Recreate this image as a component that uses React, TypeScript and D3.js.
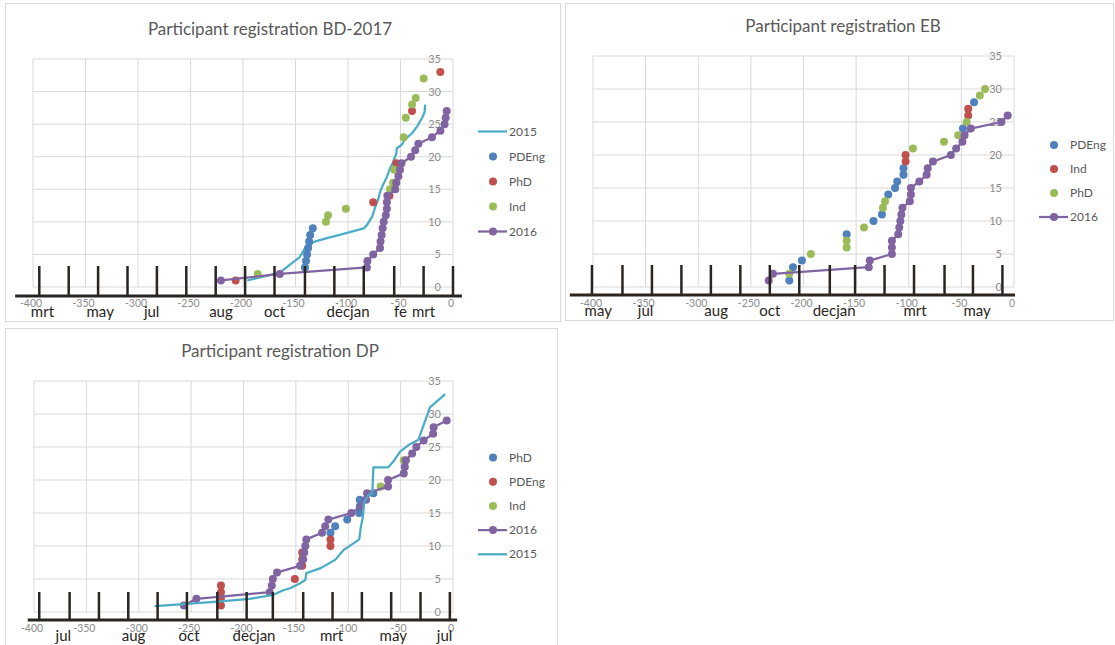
import React from "react";
import * as d3 from "d3";

// palette (Office 2010 look)
const BLUE = "#4F81BD";
const RED = "#C0504D";
const GREEN = "#9BBB59";
const PURPLE = "#8064A2";
const CYAN = "#4BACC6";
const INK = "#2a2521";
const GREY = "#595959";
const GRID = "#d9d9d9";
const FONT = "Lato, 'Open Sans', sans-serif";

const xTicks = d3.range(-400, 1, 50);
const yTicks = d3.range(0, 36, 5);

// ---- BD-2017 : [days before start, cumulative registrations]
const bd2015 = [[-196, 1], [-165, 2.2], [-146, 4.6], [-140, 6.2], [-137, 6], [-134, 6.8], [-131, 7], [-120, 7.5], [-108, 8], [-85, 9], [-82, 9.5], [-77, 10.8], [-74, 12.3], [-71, 13.6], [-69.5, 14.6], [-66, 15.9], [-63, 16.9], [-60, 18.2], [-57, 19.2], [-54, 20.5], [-53.5, 21.3], [-49, 21.8], [-46, 22.6], [-39, 23.6], [-34, 24.7], [-29, 26.1], [-27, 26.9], [-26.5, 28]];
const bdPDEng = [[-141, 3], [-140, 4], [-139, 5], [-138, 6], [-137, 7], [-136, 8], [-133.5, 9]];
const bdPhD = [[-207, 1], [-76, 13], [-60.5, 14], [-54, 19], [-39, 27], [-12, 33]];
const bdInd = [[-186, 2], [-121, 10], [-119, 11], [-102, 12], [-60, 15], [-57, 16], [-56, 18], [-47, 23], [-45, 26], [-39, 28], [-35.5, 29], [-28, 32]];
const bd2016 = [[-221, 1], [-165, 2], [-82, 3], [-81.5, 4], [-76, 5], [-69.5, 6], [-69, 7], [-68, 8], [-67, 9], [-66, 10], [-64, 11], [-63, 12], [-63, 13], [-62.5, 14], [-55, 15], [-54, 16], [-52, 17], [-50.5, 18], [-49, 19], [-40, 20], [-36, 21], [-33, 22], [-20, 23], [-12, 24], [-8, 25], [-7, 26], [-6, 27]];
const bdMarks = [-394, -366, -338, -310, -282, -254, -226, -198, -170, -141, -113, -85, -56, -28, 0];
// [label, day, anchor]
const bdMonths = [["mrt", -391, "middle"], ["may", -336, "middle"], ["jul", -287, "middle"], ["aug", -221, "middle"], ["oct", -170, "middle"], ["dec", -98, "end"], ["jan", -98, "start"], ["fe", -50, "middle"], ["mrt", -28, "middle"]];

// ---- EB
const ebPDEng = [[-213.5, 1], [-210, 3], [-201.5, 4], [-159, 8], [-133.5, 10], [-125.5, 11], [-119.5, 14], [-113, 15], [-111, 16], [-105, 17], [-105, 18], [-48.5, 24], [-38, 28]];
const ebInd = [[-103, 19], [-103, 20], [-43.5, 26], [-43.5, 27]];
const ebPhD = [[-213.5, 2], [-193, 5], [-159, 6], [-159, 7], [-142.5, 9], [-124.5, 12], [-122.5, 13], [-96, 21], [-66.5, 22], [-53, 23], [-45, 25], [-32.5, 29], [-27.5, 30]];
const eb2016 = [[-233, 1], [-229, 2], [-138, 3], [-137, 4], [-116, 5], [-116, 6], [-116, 7], [-110, 8], [-109, 9], [-108, 10], [-107, 11], [-106, 12], [-99, 13], [-98, 14], [-98, 15], [-90, 16], [-83, 17], [-82, 18], [-77, 19], [-60, 20], [-55, 21], [-49, 22], [-47, 23], [-41, 24], [-12, 25], [-6, 26]];
const ebMarks = [-401, -372, -344, -316, -288, -260, -232, -204, -175, -151, -123, -95, -66, -39, -11];
const ebMonths = [["may", -395, "middle"], ["jul", -350, "middle"], ["aug", -283, "middle"], ["oct", -232, "middle"], ["dec", -169, "end"], ["jan", -169, "start"], ["mrt", -94, "middle"], ["may", -35, "middle"]];

// ---- DP
const dpPhD = [[-117, 12], [-112.5, 13], [-101, 14], [-89.5, 15], [-89, 16], [-89, 17], [-76, 18]];
const dpPDEng = [[-221.5, 1], [-221.5, 2], [-221.5, 3], [-221.5, 4], [-151, 5], [-144, 7], [-144, 8], [-144, 9], [-117, 10], [-117, 11]];
const dpInd = [[-69, 19], [-47, 23]];
const dp2016 = [[-257, 1], [-245, 2], [-175, 3], [-173, 4], [-172, 5], [-168, 6], [-146, 7], [-143, 8], [-142, 9], [-141, 10], [-140, 11], [-125, 12], [-122, 13], [-119, 14], [-97, 15], [-88, 16], [-83, 17], [-82, 18], [-62, 19], [-62, 20], [-47, 21], [-46, 22], [-45, 23], [-39, 24], [-35, 25], [-28, 26], [-19, 27], [-18.5, 28], [-6, 29]];
const dp2015 = [[-285, 0.9], [-257, 1.2], [-222, 1.6], [-194, 2], [-171.5, 2.6], [-162, 3.3], [-155.5, 3.6], [-146, 4.35], [-141, 4.85], [-140, 5.9], [-127, 6.6], [-112.5, 7.9], [-104.5, 9.4], [-95, 10.4], [-89.5, 11], [-88, 12.9], [-86, 14.4], [-85, 16.5], [-81, 17.7], [-77, 18], [-76, 21.9], [-62, 21.9], [-57, 22.8], [-50.5, 24.3], [-42.5, 25.3], [-33, 26.1], [-22, 31], [-7.5, 33]];
const dpMarks = [-395, -366, -338, -310, -282, -254, -225, -197, -172, -143, -115, -87, -59, -31, -3];
const dpMonths = [["jul", -372, "middle"], ["aug", -305, "middle"], ["oct", -252, "middle"], ["dec", -188, "end"], ["jan", -188, "start"], ["mrt", -116, "middle"], ["may", -57, "middle"], ["jul", -8, "middle"]];

const panels = [
  {
    title: "Participant registration BD-2017",
    frame: [5.5, 3.5, 555, 318],
    titleX: 270, titleY: 35,
    xRange: [33, 453], yRange: [287, 59],
    marks: bdMarks, axisFrom: -417, axisTo: 8.5, months: bdMonths,
    lineDy: 9, markTop: 21, monthDy: 30,
    legend: { x: 493, y: 131.5, dy: 25 },
    series: [
      { name: "2015", color: CYAN, kind: "line", data: bd2015 },
      { name: "PDEng", color: BLUE, kind: "dot", data: bdPDEng },
      { name: "PhD", color: RED, kind: "dot", data: bdPhD },
      { name: "Ind", color: GREEN, kind: "dot", data: bdInd },
      { name: "2016", color: PURPLE, kind: "both", data: bd2016 },
    ],
  },
  {
    title: "Participant registration EB",
    frame: [565.5, 3.5, 548, 317],
    titleX: 843, titleY: 32,
    xRange: [593, 1014], yRange: [287, 56],
    marks: ebMarks, axisFrom: -422, axisTo: 1, months: ebMonths,
    lineDy: 8, markTop: 22, monthDy: 29,
    legend: { x: 1054, y: 145, dy: 24 },
    series: [
      { name: "PDEng", color: BLUE, kind: "dot", data: ebPDEng },
      { name: "Ind", color: RED, kind: "dot", data: ebInd },
      { name: "PhD", color: GREEN, kind: "dot", data: ebPhD },
      { name: "2016", color: PURPLE, kind: "both", data: eb2016 },
    ],
  },
  {
    title: "Participant registration DP",
    frame: [5.5, 328.5, 552, 330],
    titleX: 280, titleY: 357,
    xRange: [34, 453], yRange: [612, 381],
    marks: dpMarks, axisFrom: -406, axisTo: 4, months: dpMonths,
    lineDy: 8, markTop: 20, monthDy: 29,
    legend: { x: 493, y: 457.5, dy: 24.2 },
    series: [
      { name: "PhD", color: BLUE, kind: "dot", data: dpPhD },
      { name: "PDEng", color: RED, kind: "dot", data: dpPDEng },
      { name: "Ind", color: GREEN, kind: "dot", data: dpInd },
      { name: "2016", color: PURPLE, kind: "both", data: dp2016 },
      { name: "2015", color: CYAN, kind: "line", data: dp2015 },
    ],
  },
];

function Panel({ p }) {
  const x = d3.scaleLinear().domain([-400, 0]).range(p.xRange);
  const y = d3.scaleLinear().domain([0, 35]).range(p.yRange);
  const line = d3.line().x((d) => x(d[0])).y((d) => y(d[1]));
  const y0 = y(0);
  const [fx, fy, fw, fh] = p.frame;

  return (
    <g fontFamily={FONT}>
      <rect x={fx} y={fy} width={fw} height={fh} fill="#fff" stroke={GRID} />
      <text x={p.titleX} y={p.titleY} textAnchor="middle" fontSize={17} fill={GREY}>{p.title}</text>

      {/* gridlines */}
      {xTicks.map((t) => (
        <line key={"gx" + t} x1={x(t)} x2={x(t)} y1={y(35)} y2={y0} stroke={GRID} />
      ))}
      {yTicks.map((t) => (
        <line key={"gy" + t} x1={x(-400)} x2={x(0)} y1={y(t)} y2={y(t)} stroke={GRID} />
      ))}
      {yTicks.map((t) => (
        <text key={"ly" + t} x={x(0) - 12} y={y(t) + 4} textAnchor="end" fontSize={11} fill="#8c8c8c">{t}</text>
      ))}
      {xTicks.map((t) => (
        <text key={"lx" + t} x={x(t) - 2} y={y0 + 20} textAnchor="middle" fontSize={10.5} fill="#8c8c8c">{t}</text>
      ))}

      {/* series */}
      {p.series.map((s) => (
        <g key={s.name}>
          {s.kind !== "dot" && (
            <path d={line(s.data)} fill="none" stroke={s.color} strokeWidth={2.25} strokeLinejoin="round" />
          )}
          {s.kind !== "line" &&
            s.data.map((d, i) => <circle key={i} cx={x(d[0])} cy={y(d[1])} r={4} fill={s.color} />)}
        </g>
      ))}

      {/* legend */}
      {p.series.map((s, i) => {
        const ly = p.legend.y + i * p.legend.dy;
        return (
          <g key={"lg" + s.name}>
            {s.kind !== "dot" && (
              <line x1={p.legend.x - 15} x2={p.legend.x + 14} y1={ly} y2={ly} stroke={s.color} strokeWidth={2.25} />
            )}
            {s.kind !== "line" && <circle cx={p.legend.x} cy={ly} r={4} fill={s.color} />}
            <text x={p.legend.x + 16} y={ly + 4} fontSize={12} fill={GREY}>{s.name}</text>
          </g>
        );
      })}

      {/* hand-drawn month axis overlay */}
      <line x1={x(p.axisFrom)} x2={x(p.axisTo)} y1={y0 + p.lineDy} y2={y0 + p.lineDy} stroke={INK} strokeWidth={3} />
      {p.marks.map((m, i) => (
        <line key={"m" + i} x1={x(m)} x2={x(m)} y1={y0 - p.markTop} y2={y0 + p.lineDy} stroke={INK} strokeWidth={2.5} />
      ))}
      {p.months.map(([label, d, anchor], i) => (
        <text key={"mo" + i} x={x(d)} y={y0 + p.monthDy} textAnchor={anchor} fontSize={15} fill={INK}>{label}</text>
      ))}
    </g>
  );
}

export default function App() {
  return (
    <svg width={1115} height={645} style={{ position: "absolute", left: 0, top: 0, background: "#fff" }}>
      {panels.map((p) => (
        <Panel key={p.title} p={p} />
      ))}
    </svg>
  );
}
